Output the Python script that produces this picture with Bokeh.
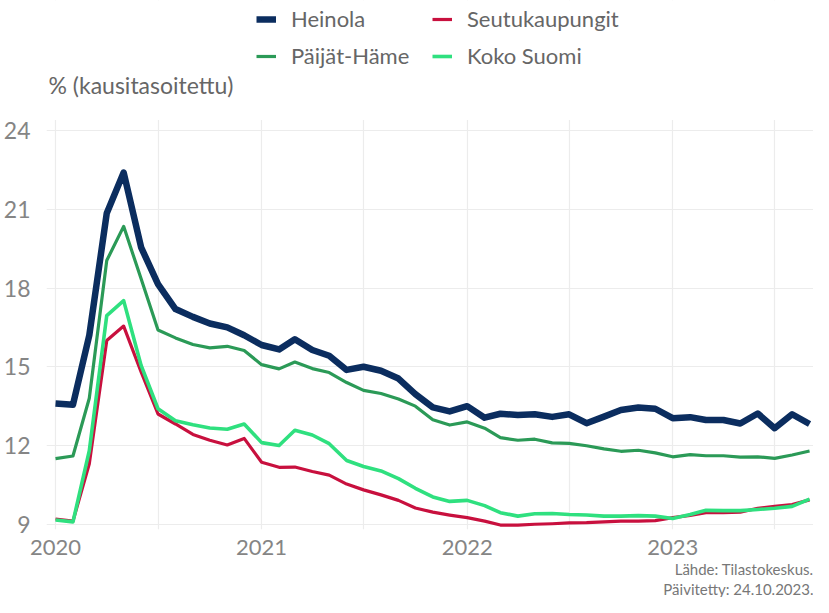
import pandas as pd
from bokeh.plotting import figure
from bokeh.models import (Range1d, FixedTicker, DatetimeTickFormatter, Legend,
                          LegendItem, Label, Title, BoxAnnotation, ColumnDataSource)
from bokeh.embed import file_html
from bokeh.resources import INLINE

# ---- data (monthly, seasonally adjusted unemployment %, Jan 2020 - Sep 2023)
months = pd.date_range("2020-01-01", "2023-09-01", freq="MS")

heinola = [13.6, 13.55, 16.2, 20.85, 22.4, 19.55, 18.15, 17.2, 16.9, 16.65,
           16.5, 16.2, 15.83, 15.66, 16.05, 15.64, 15.42, 14.88, 15.0, 14.85,
           14.55, 13.96, 13.45, 13.3, 13.5, 13.06, 13.21, 13.16, 13.19, 13.09,
           13.19, 12.85, 13.1, 13.35, 13.45, 13.4, 13.04, 13.08, 12.97, 12.97,
           12.84, 13.22, 12.66, 13.19, 12.82]
paijat_hame = [11.5, 11.6, 13.8, 19.05, 20.35, 18.35, 16.4, 16.1, 15.85, 15.72,
               15.78, 15.62, 15.08, 14.92, 15.18, 14.93, 14.78, 14.4, 14.1, 13.98,
               13.77, 13.5, 12.98, 12.78, 12.9, 12.66, 12.3, 12.2, 12.24, 12.1,
               12.08, 11.99, 11.87, 11.78, 11.82, 11.72, 11.57, 11.65, 11.61, 11.61,
               11.56, 11.57, 11.51, 11.64, 11.79]
seutukaupungit = [9.2, 9.12, 11.3, 16.0, 16.55, 14.8, 13.2, 12.82, 12.42, 12.2,
                  12.02, 12.27, 11.36, 11.17, 11.18, 11.01, 10.87, 10.53, 10.31, 10.12,
                  9.91, 9.62, 9.46, 9.35, 9.25, 9.12, 8.97, 8.97, 9.0, 9.02,
                  9.05, 9.06, 9.09, 9.12, 9.12, 9.14, 9.25, 9.34, 9.44, 9.44,
                  9.46, 9.61, 9.68, 9.75, 9.93]
koko_suomi = [9.16, 9.09, 11.8, 16.95, 17.52, 15.05, 13.4, 12.94, 12.79, 12.67,
              12.62, 12.82, 12.11, 12.0, 12.58, 12.4, 12.07, 11.43, 11.2, 11.03,
              10.74, 10.37, 10.04, 9.87, 9.91, 9.71, 9.44, 9.31, 9.4, 9.41,
              9.37, 9.35, 9.31, 9.31, 9.33, 9.31, 9.22, 9.37, 9.53, 9.52,
              9.52, 9.56, 9.61, 9.68, 9.96]

series_names = ["Heinola", "Seutukaupungit", "Päijät-Häme", "Koko Suomi"]
y_ticks = [9, 12, 15, 18, 21, 24]
year_ticks = ["2020-01-01", "2021-01-01", "2022-01-01", "2023-01-01"]
half_year_ticks = ["2020-07-01", "2021-07-01", "2022-07-01", "2023-07-01"]
y_label = "% (kausitasoitettu)"
source_text = "Lähde: Tilastokeskus."
updated_text = "Päivitetty: 24.10.2023."

colors = {"Heinola": "#0b2d5f", "Seutukaupungit": "#c8103e",
          "Päijät-Häme": "#2b9a57", "Koko Suomi": "#2fe07f"}
widths = {"Heinola": 6.5, "Seutukaupungit": 3.2,
          "Päijät-Häme": 3.2, "Koko Suomi": 3.6}

FONT = "Lato"

src = ColumnDataSource(dict(x=months, heinola=heinola, paijat=paijat_hame,
                            seutu=seutukaupungit, koko=koko_suomi))


def ms(d):
    return pd.Timestamp(d).timestamp() * 1000


W, H = 813, 597
BL, BR, BB = 40, 0, 66
FW, FH = W - BL - BR, H - BB          # frame spans to the top of the canvas
PLOT_TOP_PX = 120                     # where the data area starts (from top)
Y0, Y1 = 8.8, 24.4                    # visible data window
ppu = (FH - PLOT_TOP_PX) / (Y1 - Y0)
Y_TOP = Y1 + PLOT_TOP_PX / ppu        # extend range to hold legend/label

p = figure(width=W, height=H, x_axis_type="datetime",
           output_backend="svg", toolbar_location=None,
           x_range=Range1d(ms("2019-12-16"), ms("2023-09-08")),
           y_range=Range1d(Y0, Y_TOP),
           min_border_left=BL, min_border_right=BR,
           min_border_top=0, min_border_bottom=BB)
p.outline_line_color = None
p.background_fill_color = "white"
p.border_fill_color = "white"

# axes
p.yaxis.ticker = FixedTicker(ticks=y_ticks)
p.xaxis.ticker = FixedTicker(ticks=[ms(d) for d in year_ticks],
                             minor_ticks=[ms(d) for d in half_year_ticks])
p.xaxis.formatter = DatetimeTickFormatter(years="%Y", months="%Y", days="%Y",
                                          hours="%Y", minutes="%Y")
for ax in (p.xaxis[0], p.yaxis[0]):
    ax.axis_line_color = None
    ax.major_tick_line_color = None
    ax.minor_tick_line_color = None
    ax.major_label_text_font = FONT
    ax.major_label_text_color = "#858585"
p.yaxis.major_label_text_font_size = "23px"
p.xaxis.major_label_text_font_size = "22px"
p.yaxis.major_label_standoff = 10
p.xaxis.major_label_standoff = 4

p.xgrid.grid_line_color = "#ececec"
p.xgrid.minor_grid_line_color = "#ececec"
p.ygrid.grid_line_color = "#ececec"
p.xgrid.grid_line_width = 1.2
p.xgrid.minor_grid_line_width = 1.2
p.ygrid.grid_line_width = 1.2

# white band above the data window hides the grid there
p.add_layout(BoxAnnotation(bottom=Y1, fill_color="white", fill_alpha=1.0,
                           line_alpha=0, level="underlay"))

# lines (draw order: thin ones first, Heinola on top)
r_paijat = p.line("x", "paijat", source=src, line_color=colors["Päijät-Häme"],
                  line_width=widths["Päijät-Häme"], line_join="round")
r_seutu = p.line("x", "seutu", source=src, line_color=colors["Seutukaupungit"],
                 line_width=widths["Seutukaupungit"], line_join="round")
r_koko = p.line("x", "koko", source=src, line_color=colors["Koko Suomi"],
                line_width=widths["Koko Suomi"], line_join="round")
r_hein = p.line("x", "heinola", source=src, line_color=colors["Heinola"],
                line_width=widths["Heinola"], line_join="round")
renderers = {"Heinola": r_hein, "Seutukaupungit": r_seutu,
             "Päijät-Häme": r_paijat, "Koko Suomi": r_koko}

# legend at the top (screen units relative to frame bottom-left)
LEG_H = 2 * 27 + 10
legend = Legend(items=[LegendItem(label=n, renderers=[renderers[n]]) for n in series_names],
                orientation="horizontal", ncols=2,
                location=(210, FH - 7 - LEG_H),
                label_text_font=FONT, label_text_font_size="22px",
                label_text_color="#666666", glyph_width=20, glyph_height=20,
                label_standoff=15, spacing=10, label_width=131, label_height=27,
                margin=0, padding=0, border_line_color=None,
                background_fill_alpha=0)
p.add_layout(legend)

# horizontal y-axis label above the data area
p.add_layout(Label(x=2, y=FH - 86, x_units="screen", y_units="screen",
                   text=y_label, text_font=FONT, text_font_size="23px",
                   text_color="#666666", text_baseline="middle", text_align="left"))

# captions bottom-right
p.add_layout(Title(text=source_text, align="right", text_font=FONT,
                   text_font_size="15px", text_font_style="normal",
                   text_color="#777777", standoff=0), "below")
p.add_layout(Title(text=updated_text, align="right", text_font=FONT,
                   text_font_size="15px", text_font_style="normal",
                   text_color="#777777", standoff=0), "below")

open("out.html", "w").write(file_html(p, INLINE))
